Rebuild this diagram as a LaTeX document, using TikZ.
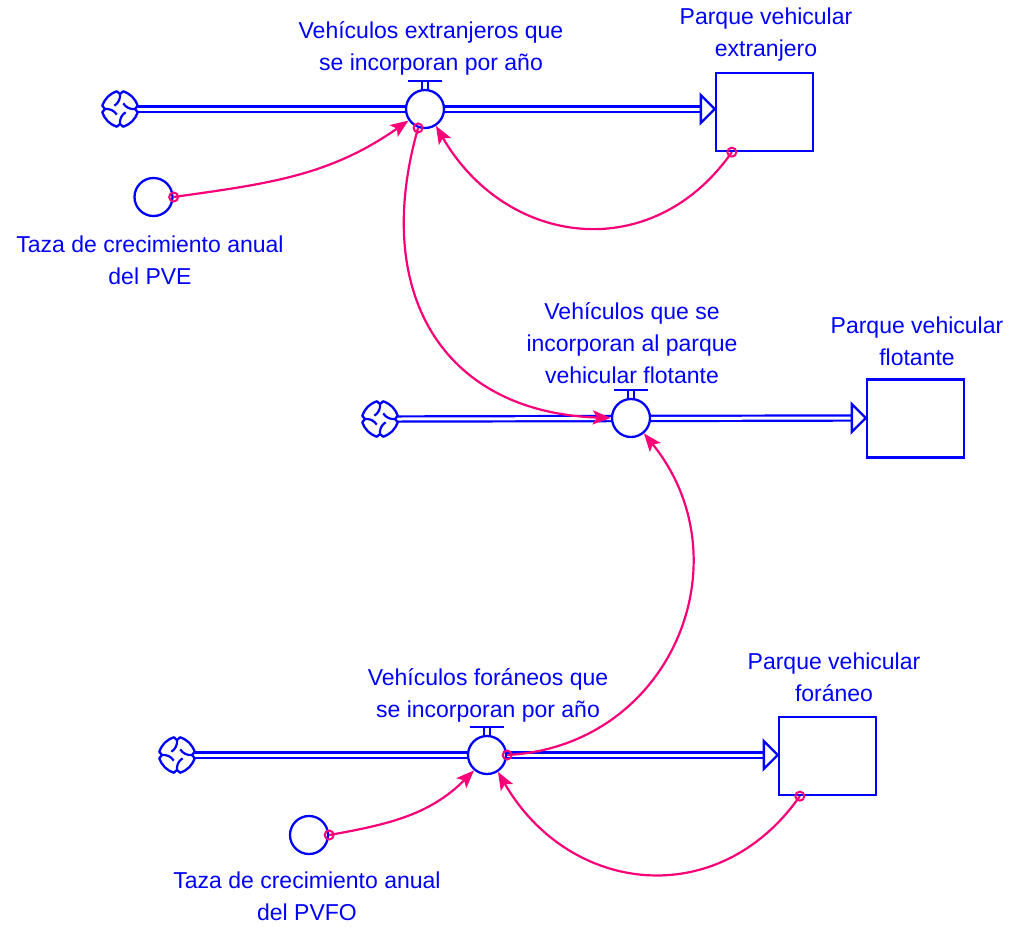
\documentclass[tikz,border=0pt]{standalone}
\usepackage{fontspec}
\setmainfont{Liberation Sans}
\usetikzlibrary{arrows.meta,calc}
\definecolor{flowblue}{RGB}{0,0,255}
\definecolor{linkpink}{RGB}{250,0,120}
\pgfdeclarelayer{pipes}
\pgfsetlayers{pipes,main}
\tikzset{
  valve/.style={circle, draw=flowblue, fill=white, line width=2.3pt, minimum size=38pt, inner sep=0pt},
  auxvar/.style={circle, draw=flowblue, fill=white, line width=2.3pt, minimum size=38pt, inner sep=0pt},
  stock/.style={rectangle, draw=flowblue, fill=white, line width=2.3pt, minimum width=97pt, minimum height=78pt, inner sep=0pt},
  cloudnode/.style={circle, minimum size=36pt, inner sep=0pt},
  lbl/.style={text=flowblue, align=center, inner sep=0pt, font=\fontsize{23}{32}\selectfont},
  pipe/.style={draw=flowblue, double=white, double distance=3pt, line width=2.2pt},
  pipehead/.style={draw=flowblue, fill=white, line width=2.3pt, line join=miter},
  link/.style={draw=linkpink, line width=2.2pt, -{Stealth[length=18pt,width=14pt,inset=4pt]}},
  tailring/.style={draw=linkpink, line width=2pt},
  pics/cloudicon/.style={code={
    \draw[flowblue, line width=2.3pt, line join=round]
      (10:18) to[bend right=25] (80:18) -- (90:15) -- (100:18) to[bend right=25] (170:18)
      -- (180:15) -- (190:18) to[bend right=25] (260:18) -- (270:15) -- (280:18)
      to[bend right=25] (350:18) -- (0:15) -- cycle;
    \foreach \a in {0,90,180,270}
      \draw[flowblue, line width=2.2pt] (\a:15) to[bend left=30] (\a+60:6.5);
  }}
}
\begin{document}
\begin{tikzpicture}[x=1pt,y=1pt]
\useasboundingbox (0,0) rectangle (1012,-927);

% --- top chain: foreign vehicles ---
\node[cloudnode] (cloud1) at (120,-109) {};
\node[valve] (v1) at (425,-109) {};
\node[stock] (box1) at (764.5,-112) {};
\node[auxvar] (aux1) at (153.5,-197) {};
\node[lbl] (lv1) at (431,-48) {Vehículos extranjeros que\\se incorporan por año};
\node[lbl] (lbox1) at (766,-35) {Parque vehicular\\extranjero};
\node[lbl] (laux1) at (150,-260) {Taza de crecimiento anual\\del PVE};

% --- middle chain: floating fleet ---
\node[cloudnode] (cloud2) at (380,-419) {};
\node[valve] (v2) at (631,-418) {};
\node[stock] (box2) at (915.5,-418.5) {};
\node[lbl] (lv2) at (632,-343) {Vehículos que se\\incorporan al parque\\vehicular flotante};
\node[lbl] (lbox2) at (917,-341) {Parque vehicular\\flotante};

% --- bottom chain: out-of-state vehicles ---
\node[cloudnode] (cloud3) at (177,-755) {};
\node[valve] (v3) at (487,-755) {};
\node[stock] (box3) at (827.5,-756) {};
\node[auxvar] (aux3) at (309,-835) {};
\node[lbl] (lv3) at (488,-695) {Vehículos foráneos que\\se incorporan por año};
\node[lbl] (lbox3) at (834,-677) {Parque vehicular\\foráneo};
\node[lbl] (laux3) at (307,-896) {Taza de crecimiento anual\\del PVFO};

% clouds
\foreach \c in {cloud1,cloud2,cloud3} \pic at (\c) {cloudicon};

% valve handles
\foreach \v in {v1,v2,v3} {
  \draw[flowblue, line width=1.5pt] ($(\v.north)+(-2.8,0)$) -- ++(0,7) ($(\v.north)+(2.8,0)$) -- ++(0,7);
  \draw[flowblue, line width=2.4pt] ($(\v.north)+(-17,8)$) -- ++(34,0);
}

% flow pipes and their heads
\coordinate (t1) at (box1.west |- v1);
\coordinate (t2) at (box2.west |- v2);
\coordinate (t3) at (box3.west |- v3);
\begin{pgfonlayer}{pipes}
  \draw[pipe] (cloud1.east) -- ($(t1)+(-14,0)$);
  \draw[pipe] (cloud2.east) -- ($(t2)+(-14,0)$);
  \draw[pipe] (cloud3.east) -- ($(t3)+(-14,0)$);
\end{pgfonlayer}
\foreach \t in {t1,t2,t3}
  \draw[pipehead] ($(\t)+(-14,14)$) -- (\t) -- ($(\t)+(-14,-14)$) -- cycle;

% information links
\coordinate (s1) at ($(box1.south west)+(17,0)$);
\coordinate (s3) at ($(box3.south west)+(22,0)$);
\draw[link] (aux1.east) to[out=8,in=215] (v1.215);
\draw[link] (s1) to[out=235,in=300,looseness=1.2] (v1.303);
\draw[link] (v1.250) to[out=254,in=178,looseness=1.25] (v2.west);
\draw[link] (aux3.east) to[out=10,in=225] (v3.230);
\draw[link] (s3) to[out=235,in=300,looseness=1.2] (v3.303);
\draw[link] (v3.east) to[out=3,in=309,looseness=1.2] (v2.310);

% link origins
\foreach \p in {aux1.east, s1, v1.250, aux3.east, s3, v3.east}
  \draw[tailring] (\p) circle (4.5pt);
\end{tikzpicture}
\end{document}
